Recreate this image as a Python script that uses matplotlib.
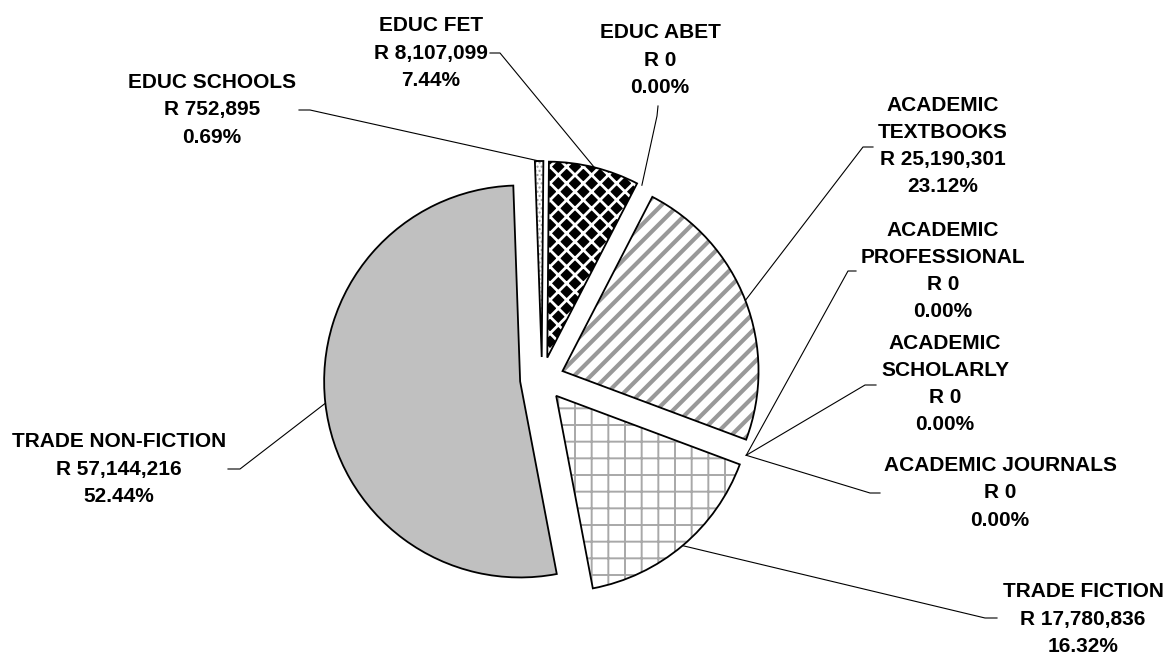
import numpy as np
import matplotlib
matplotlib.use('agg')
import matplotlib.pyplot as plt

W, H = 1168, 657

categories = ['EDUC SCHOOLS', 'EDUC FET', 'EDUC ABET',
              'ACADEMIC\nTEXTBOOKS', 'ACADEMIC\nPROFESSIONAL', 'ACADEMIC\nSCHOLARLY',
              'ACADEMIC JOURNALS', 'TRADE FICTION', 'TRADE NON-FICTION']
values = [752895, 8107099, 0, 25190301, 0, 0, 0, 17780836, 57144216]

# label block centres and leader start / knee, in pixels from top-left
label_xy = [(212, 110), (431, 53), (660, 60), (943, 146), (943, 271),
            (945, 384), (1000, 493), (1083, 619), (119, 469)]
leader_start = [(299, 110), (490, 53), (658, 106), (873, 147), (856, 271),
                (876, 385), (880, 493), (997, 618), (228, 469)]
leader_knee = [(310, 110), (500, 53), (657, 116), (863, 147), (848, 271),
               (865, 385), (870, 493), (985, 618), (240, 469)]

faces = ['white', 'black', 'white', 'white', 'white', 'white', 'white', 'white', '#c0c0c0']
hatch_colors = ['#9a9a9a', 'white', 'white', '#999999', 'white', 'white', 'white', '#a8a8a8', '#c0c0c0']
hatches = ['....', 'xx', '', '//', '', '', '', '+', '']
hatch_lw = [1.0, 2.0, 1.0, 3.0, 1.0, 1.0, 1.0, 1.4, 1.0]

cx, cy, R = 542, 379, 196
start = 92
explode = [22] * len(values)  # pie explode is in data units here (pixels)

fig = plt.figure(figsize=(W / 100, H / 100), dpi=100)
ax = fig.add_axes([0, 0, 1, 1])

fills, _ = ax.pie(values, startangle=start, counterclock=False, center=(cx, H - cy),
                  radius=R, explode=explode, colors=faces, hatch=hatches,
                  wedgeprops=dict(linewidth=0))
for w, hc, lw in zip(fills, hatch_colors, hatch_lw):
    w.set_edgecolor(hc)
    w.set_linewidth(0)
    if hasattr(w, 'set_hatch_linewidth'):
        w.set_hatch_linewidth(lw)

outlines, _ = ax.pie(values, startangle=start, counterclock=False, center=(cx, H - cy),
                     radius=R, explode=explode, colors=['none'] * len(values),
                     wedgeprops=dict(linewidth=1.3, edgecolor='black'))
for w, v in zip(outlines, values):
    if v == 0:
        w.set_linewidth(0)

total = sum(values)
for i, w in enumerate(outlines):
    pct = values[i] / total * 100
    txt = '%s\nR %s\n%.2f%%' % (categories[i], format(values[i], ','), pct)
    lx, ly = label_xy[i]
    ax.text(lx, H - ly, txt, ha='center', va='center', fontsize=15,
            fontweight='bold', family='Liberation Sans', linespacing=1.55)

    mid = np.deg2rad((w.theta1 + w.theta2) / 2)
    ex = w.center[0] + w.r * np.cos(mid)
    ey = w.center[1] + w.r * np.sin(mid)
    sx, sy = leader_start[i]
    kx, ky = leader_knee[i]
    ax.plot([sx, kx, ex], [H - sy, H - ky, ey], color='black', lw=0.8)

ax.set_xlim(0, W)
ax.set_ylim(0, H)
ax.set_aspect('equal')
ax.axis('off')

fig.savefig('out.png', dpi=100, facecolor='white')
